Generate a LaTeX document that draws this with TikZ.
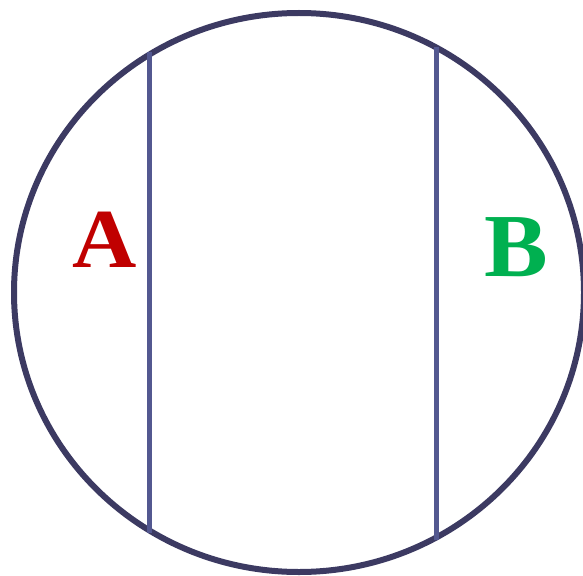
\documentclass[tikz,border=0pt]{standalone}
\usepackage{fontspec}
\setmainfont{Liberation Serif}
\usepackage{xcolor}
\usetikzlibrary{positioning}

\definecolor{rimblue}{HTML}{3C3A62}
\definecolor{cutblue}{HTML}{535890}
\definecolor{labred}{HTML}{C00000}
\definecolor{labgreen}{HTML}{00B050}

\begin{document}
\begin{tikzpicture}[
        x=1pt, y=-1pt,
        rim/.style={draw=rimblue, line width=6pt},
        cut/.style={draw=cutblue, line width=5pt},
        region/.style={font=\fontsize{84}{84}\selectfont\bfseries, inner sep=0pt, anchor=base, xscale=1.06},
    ]
        \useasboundingbox (0,0) rectangle (583,575);

        % Outer boundary
        \draw[rim] (299,292.5) ellipse [x radius=285, y radius=279.5];

        % Cut lines
        \coordinate (L1) at (149,52);
        \coordinate (L2) at (149,533);
        \coordinate (R1) at (436,47);
        \coordinate (R2) at (436,540);
        \draw[cut] (L1) -- (L2);
        \draw[cut] (R1) -- (R2);

        % Labels
        \node[region, text=labred] (A) at (104.5,267) {A};
        \node[region, text=labgreen, font=\fontsize{90}{90}\selectfont\bfseries] (B) at (516.5,276) {B};
    \end{tikzpicture}
\end{document}
